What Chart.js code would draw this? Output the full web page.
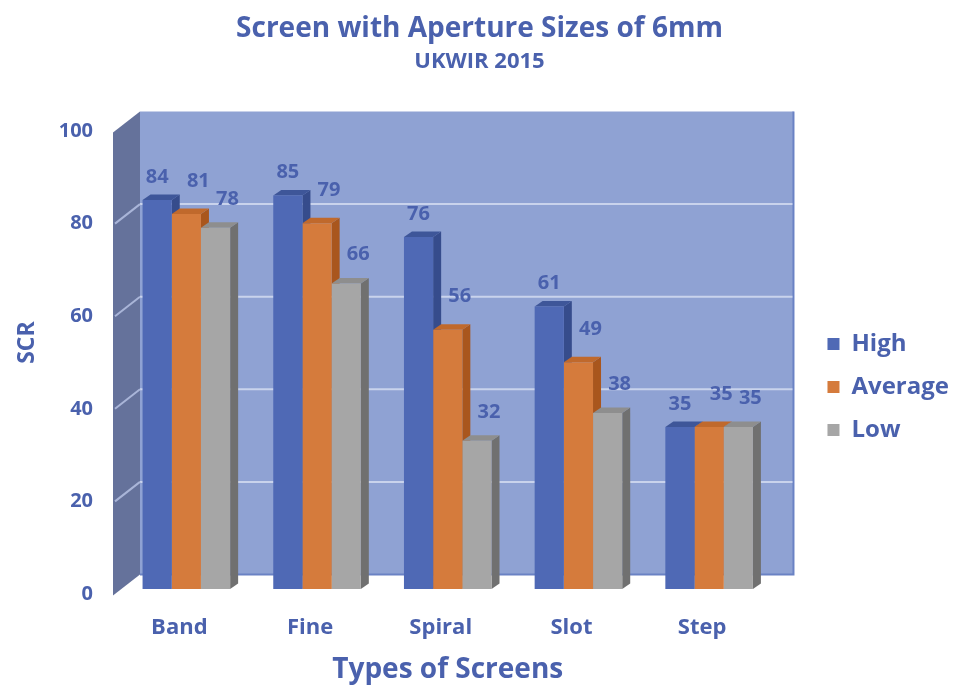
<!DOCTYPE html>
<html>
<head>
<meta charset="utf-8">
<title>Screen with Aperture Sizes of 6mm</title>
<script src="https://cdn.jsdelivr.net/npm/chart.js@4/dist/chart.umd.min.js"></script>
<style>
  html, body { margin: 0; padding: 0; background: #ffffff; }
  canvas { display: block; }
</style>
</head>
<body>
<canvas id="chart" width="969" height="687"></canvas>
<script>
// Screen capture ratio (SCR) by screen type, 6mm apertures
const categories = ['Band', 'Fine', 'Spiral', 'Slot', 'Step'];
const highValues = [84, 85, 76, 61, 35];
const averageValues = [81, 79, 56, 49, 35];
const lowValues = [78, 66, 32, 38, 35];
const seriesNames = ['High', 'Average', 'Low'];

const TEXT_BLUE = '#4a61ad';
const FONT = '"Open Sans", Lato, "DejaVu Sans", sans-serif';

// front / side / top shades of each series
const shades = [
  { front: '#4f69b5', side: '#364c8c', top: '#3e5699' },
  { front: '#d57b3c', side: '#a9561d', top: '#c0692c' },
  { front: '#a6a6a6', side: '#707070', top: '#8e8e8e' }
];

// depth geometry of the 3D box, relative to the bars' front plane
const BAR_DEPTH = { dx: 8, dy: -5.5 };
const WALL_BACK = { dx: 19, dy: -14.5 };
const WALL_FRONT = { dx: -8, dy: 6.5 };
const LABEL_SHIFT = [ { x: 0, y: -23 }, { x: 12, y: -33 }, { x: 12, y: -29 } ];

function poly(ctx, pts, fill) {
  ctx.beginPath();
  ctx.moveTo(pts[0][0], pts[0][1]);
  for (let i = 1; i < pts.length; i++) ctx.lineTo(pts[i][0], pts[i][1]);
  ctx.closePath();
  ctx.fillStyle = fill;
  ctx.fill();
}

const box3d = {
  id: 'box3d',
  beforeDatasetsDraw(chart) {
    const ctx = chart.ctx;
    const { left, right } = chart.chartArea;
    const ys = chart.scales.y;
    const yTop = ys.getPixelForValue(100);
    const yBot = ys.getPixelForValue(0);
    ctx.save();

    // back wall
    const bx0 = left + WALL_BACK.dx, bx1 = right + WALL_BACK.dx;
    const by0 = yTop + WALL_BACK.dy, by1 = yBot + WALL_BACK.dy;
    poly(ctx, [[bx0, by0], [bx1, by0], [bx1, by1], [bx0, by1]], '#8fa2d3');
    ctx.strokeStyle = '#6a82c4';
    ctx.lineWidth = 2;
    ctx.beginPath();
    ctx.moveTo(bx1, by0);
    ctx.lineTo(bx1, by1);
    ctx.lineTo(bx0, by1);
    ctx.stroke();

    // side wall
    const fx = left + WALL_FRONT.dx;
    poly(ctx, [[fx, yTop + WALL_FRONT.dy], [bx0, by0], [bx0, by1], [fx, yBot + WALL_FRONT.dy]], '#65729b');

    // gridlines on both walls
    ys.ticks.forEach(t => {
      if (t.value <= 0 || t.value >= 100) return;
      const y = ys.getPixelForValue(t.value);
      ctx.lineWidth = 2;
      ctx.strokeStyle = '#c9d3ec';
      ctx.beginPath();
      ctx.moveTo(bx0, y + WALL_BACK.dy);
      ctx.lineTo(bx1 - 1, y + WALL_BACK.dy);
      ctx.stroke();
      ctx.strokeStyle = '#a9b5d8';
      ctx.beginPath();
      ctx.moveTo(fx + 2, y + WALL_FRONT.dy - 1.5);
      ctx.lineTo(bx0, y + WALL_BACK.dy);
      ctx.stroke();
    });

    // side and top faces of each bar, left to right
    const metas = chart.data.datasets.map((d, i) => chart.getDatasetMeta(i));
    for (let c = 0; c < categories.length; c++) {
      metas.forEach((meta, s) => {
        const el = meta.data[c];
        if (!el) return;
        const p = el.getProps(['x', 'y', 'base', 'width'], true);
        const xl = p.x - p.width / 2, xr = p.x + p.width / 2;
        const dx = BAR_DEPTH.dx, dy = BAR_DEPTH.dy;
        poly(ctx, [[xr, p.y], [xr + dx, p.y + dy], [xr + dx, p.base + dy], [xr, p.base]], shades[s].side);
        poly(ctx, [[xl, p.y], [xr, p.y], [xr + dx, p.y + dy], [xl + dx, p.y + dy]], shades[s].top);
      });
    }
    ctx.restore();
  },
  afterDatasetsDraw(chart) {
    const ctx = chart.ctx;
    ctx.save();
    ctx.font = 'bold 20px ' + FONT;
    ctx.fillStyle = TEXT_BLUE;
    ctx.textAlign = 'center';
    ctx.textBaseline = 'middle';
    chart.data.datasets.forEach((ds, s) => {
      const meta = chart.getDatasetMeta(s);
      meta.data.forEach((el, i) => {
        const p = el.getProps(['x', 'y'], true);
        ctx.fillText(String(ds.data[i]), p.x + LABEL_SHIFT[s].x, p.y + LABEL_SHIFT[s].y);
      });
    });
    ctx.restore();
  }
};

const seriesValues = [highValues, averageValues, lowValues];

new Chart(document.getElementById('chart'), {
  type: 'bar',
  data: {
    labels: categories,
    datasets: seriesNames.map((name, i) => ({
      label: name,
      data: seriesValues[i],
      backgroundColor: shades[i].front,
      borderWidth: 0,
      barPercentage: 1,
      categoryPercentage: 0.67
    }))
  },
  options: {
    responsive: false,
    animation: false,
    devicePixelRatio: 1,
    layout: { padding: { left: 0, right: 10, top: 0, bottom: 0 } },
    scales: {
      x: {
        grid: { display: false, drawTicks: false },
        border: { display: false },
        ticks: {
          color: TEXT_BLUE,
          font: { family: FONT, size: 22, weight: 'bold' },
          padding: 26,
          labelOffset: -7
        },
        title: {
          display: true,
          text: 'Types of Screens',
          color: TEXT_BLUE,
          font: { family: FONT, size: 28, weight: 'bold' },
          padding: { top: 0, bottom: 0 }
        },
        afterFit(scale) { scale.height = 98; }
      },
      y: {
        min: 0,
        max: 100,
        grid: { display: false, drawTicks: false },
        border: { display: false },
        ticks: {
          stepSize: 20,
          color: TEXT_BLUE,
          font: { family: FONT, size: 20, weight: 'bold' },
          padding: 28,
          labelOffset: 5
        },
        title: {
          display: true,
          text: '     SCR',
          color: TEXT_BLUE,
          font: { family: FONT, size: 23, weight: 'bold' },
          padding: { top: 14, bottom: 0 }
        },
        afterFit(scale) { scale.width = 121; }
      },
      gap: {
        type: 'linear',
        position: 'right',
        grid: { display: false, drawTicks: false },
        border: { display: false },
        ticks: { display: false },
        afterFit(scale) { scale.width = 34; }
      }
    },
    plugins: {
      title: {
        display: true,
        text: 'Screen with Aperture Sizes of 6mm',
        color: TEXT_BLUE,
        font: { family: FONT, size: 28, weight: 'bold' },
        padding: { top: 12, bottom: 0 }
      },
      subtitle: {
        display: true,
        text: 'UKWIR 2015',
        color: TEXT_BLUE,
        font: { family: FONT, size: 22, weight: 'bold' },
        padding: { top: 3, bottom: 51 }
      },
      legend: {
        position: 'right',
        fullSize: false,
        title: { display: true, text: '', font: { size: 20 }, padding: { top: 0, bottom: 35 } },
        labels: {
          boxWidth: 12,
          boxHeight: 12,
          padding: 19,
          color: TEXT_BLUE,
          font: { family: FONT, size: 24, weight: 'bold' }
        }
      },
      tooltip: { enabled: false }
    }
  },
  plugins: [box3d]
});
</script>
</body>
</html>
